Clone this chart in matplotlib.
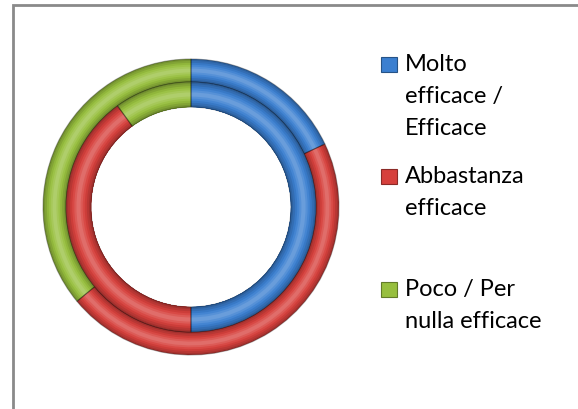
import numpy as np
import matplotlib.pyplot as plt
from matplotlib.patches import Rectangle
from matplotlib.colors import to_rgb

categories = ["Molto\nefficace /\nEfficace", "Abbastanza\nefficace", "Poco / Per\nnulla efficace"]
outer_vals = [18, 46, 36]
inner_vals = [50, 40, 10]
colors = ["#3b7fd0", "#d6403c", "#97bf3e"]

plt.rcParams['font.family'] = ['Lato', 'DejaVu Sans']

fig = plt.figure(figsize=(5.78, 4.10), dpi=100)
W, H = 578, 410

# donut axes: centre (191, 208) px, 150 px = 1 unit
cx, cy, R = 191, 208, 150
ax = fig.add_axes([(cx - R) / W, (H - cy - R) / H, 2 * R / W, 2 * R / H])
ax.axis('off')


def shade(c, f):
    c = np.array(to_rgb(c))
    if f >= 0:
        return tuple(c + (1 - c) * f)
    return tuple(c * (1 + f))


def ring(vals, r_out, r_in, n=12):
    # stacked rings to fake the bevel: darker at edges, lighter in middle
    step = (r_out - r_in) / n
    for i in range(n):
        t = (i + 0.5) / n
        f = 0.28 * (1 - abs(2 * t - 1) * 2.0)
        f = max(f, -0.3)
        cols = [shade(c, f) for c in colors]
        r = r_out - i * step
        ax.pie(vals, radius=r, colors=cols, startangle=90,
               counterclock=False,
               wedgeprops=dict(width=r - r_in, linewidth=0))
    ax.pie(vals, radius=r_out, colors=['none'] * 3, startangle=90,
           counterclock=False,
           wedgeprops=dict(width=r_out - r_in, linewidth=0.8,
                           edgecolor=(0, 0, 0, 0.3)))


ring(outer_vals, 148 / R, 125 / R)
ring(inner_vals, 125 / R, 100 / R)
ax.set_xlim(-1, 1)
ax.set_ylim(-1, 1)
ax.set_aspect('auto')

# legend
entry_y = [65, 177, 290]
for lab, c, y in zip(categories, colors, entry_y):
    fig.patches.append(Rectangle((381 / W, (H - y - 8) / H), 16 / W, 15 / H,
                                 transform=fig.transFigure, facecolor=c,
                                 edgecolor=shade(c, -0.35), linewidth=0.8))
    fig.text(405 / W, (H - y + 11) / H, lab, fontsize=17, va='top',
             ha='left', linespacing=1.66, color='black')

# outer frame
fig.patches.append(Rectangle((13 / W, -0.5), 2.0, (H - 6) / H + 0.5,
                             transform=fig.transFigure, fill=False,
                             edgecolor='#8a8a8a', linewidth=2))

fig.savefig('out.png', dpi=100, facecolor='white')
